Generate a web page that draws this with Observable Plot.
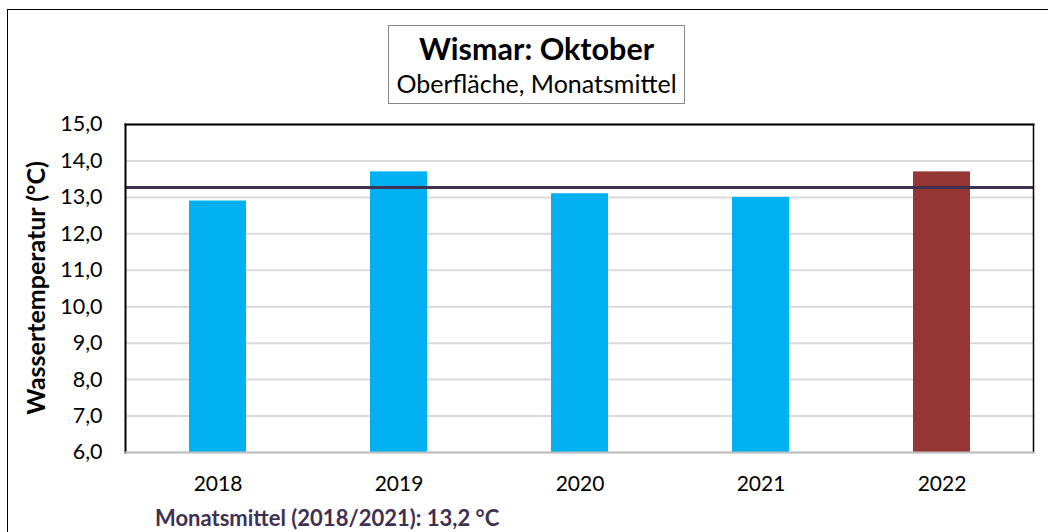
<!DOCTYPE html>
<html>
<head>
<meta charset="utf-8">
<script src="https://cdn.jsdelivr.net/npm/d3@7"></script>
<script src="https://cdn.jsdelivr.net/npm/@observablehq/plot@0.6"></script>
<style>
  html, body { margin: 0; padding: 0; background: #fff; overflow: hidden; }
  #wrap { position: relative; width: 1048px; height: 532px; font-family: Lato, "Noto Sans", sans-serif; }
  #outer { position: absolute; left: 7px; top: 9px; width: 1200px; height: 700px; border: 1.5px solid #000; box-sizing: border-box; }
  #chart { position: absolute; left: 0; top: 0; }
  #titlebox { position: absolute; left: 388px; top: 25px; width: 297px; height: 79px; border: 1.5px solid #888; box-sizing: border-box; background: #fff; text-align: center; }
  #title { font-weight: bold; font-size: 30.5px; color: #000; margin-top: 5px; line-height: 34px; }
  #subtitle { font-size: 25px; color: #000; margin-top: 3px; line-height: 30px; }
  #ylabel { position: absolute; left: 35px; top: 288px; transform: translate(-50%, -50%) rotate(-90deg); white-space: nowrap; font-weight: bold; font-size: 25px; color: #000; }
  #caption { position: absolute; left: 155px; top: 505px; font-weight: bold; font-size: 22px; line-height: 26px; color: #403152; white-space: nowrap; }
</style>
</head>
<body>
<div id="wrap">
  <div id="outer"></div>
  <div id="chart"></div>
  <div id="titlebox"><div id="title">Wismar: Oktober</div><div id="subtitle">Oberfläche, Monatsmittel</div></div>
  <div id="ylabel">Wassertemperatur (°C)</div>
  <div id="caption">Monatsmittel (2018/2021): 13,2 °C</div>
</div>
<script>
const years = ["2018", "2019", "2020", "2021", "2022"];
const temps = [12.9, 13.7, 13.1, 13.0, 13.7];
const highlightYear = "2022";
const meanValue = 13.27;
const yTicks = [6, 7, 8, 9, 10, 11, 12, 13, 14, 15];

const data = years.map((y, i) => ({year: y, temp: temps[i]}));
const fmt = d => d.toFixed(1).replace(".", ",");

const chart = Plot.plot({
  width: 1048,
  height: 532,
  marginLeft: 125,
  marginRight: 15,
  marginTop: 124,
  marginBottom: 80,
  style: {fontFamily: "Lato, 'Noto Sans', sans-serif", fontSize: "21px", background: "transparent", color: "#000"},
  x: {domain: years, paddingInner: 0.686, paddingOuter: 0.343, align: 0.5},
  y: {domain: [6, 15]},
  marks: [
    Plot.gridY(yTicks, {stroke: "#d9d9d9", strokeWidth: 2, strokeOpacity: 1}),
    Plot.barY(data, {x: "year", y1: 6, y2: "temp", fill: d => d.year === highlightYear ? "#943634" : "#00b0f0"}),
    Plot.ruleY([meanValue], {stroke: "#403152", strokeWidth: 3}),
    Plot.axisY(yTicks, {tickFormat: fmt, tickSize: 0, tickPadding: 23, label: null, fontSize: 21.5, fill: "#000"}),
    Plot.axisX({tickSize: 0, tickPadding: 24, label: null, fontSize: 21, fill: "#000"}),
    Plot.frame({stroke: "#000", strokeWidth: 2, anchor: "left"}),
    Plot.frame({stroke: "#000", strokeWidth: 2, anchor: "top"}),
    Plot.frame({stroke: "#000", strokeWidth: 1.5, anchor: "right"}),
    Plot.frame({stroke: "#bfbfbf", strokeWidth: 2, anchor: "bottom"})
  ]
});
document.getElementById("chart").appendChild(chart);
</script>
</body>
</html>
